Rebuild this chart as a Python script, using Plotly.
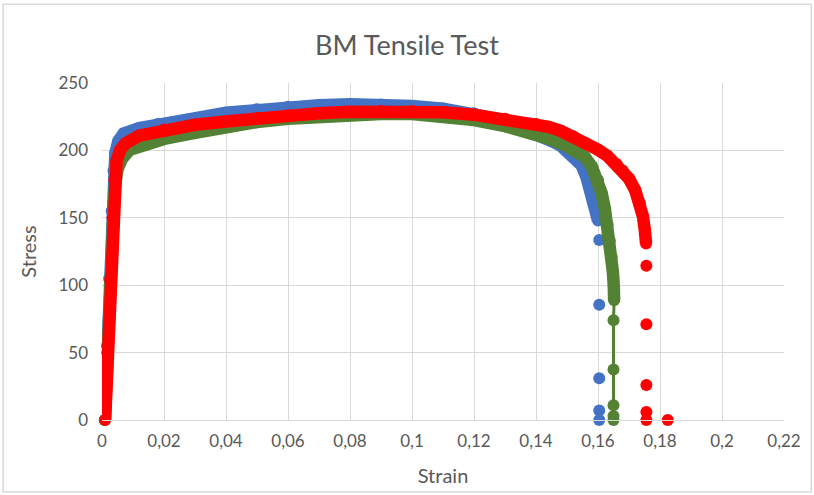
import plotly.graph_objects as go

# values (band centre lines + loose end points)
blue_strain = [0.0009, 0.0016, 0.0023, 0.0031, 0.0037, 0.0043, 0.0053, 0.007, 0.012, 0.018,
               0.028, 0.04, 0.05, 0.06, 0.07, 0.08, 0.09, 0.1, 0.11, 0.12, 0.125, 0.13,
               0.135, 0.14, 0.145, 0.148, 0.1506, 0.1528, 0.1547, 0.1563, 0.1577, 0.1588,
               0.1595, 0.16]
blue_stress = [0, 55, 105, 155, 185, 198, 207, 212.5, 216.5, 219.5,
               223, 228, 230.5, 232.4, 233.5, 234.2, 234, 233, 231, 227.5, 224.5, 221,
               217, 212, 207, 203.5, 199, 195, 189, 180, 170, 162,
               155, 148]
blue_tail_strain = [0.1604, 0.1604, 0.1604, 0.1604, 0.1604]
blue_tail_stress = [133.5, 85.5, 31, 7, 0]

green_strain = [0.0009, 0.0017, 0.0025, 0.0033, 0.0041, 0.005, 0.0065, 0.009, 0.015, 0.02,
                0.03, 0.04, 0.05, 0.06, 0.07, 0.08, 0.09, 0.1, 0.11, 0.12, 0.13, 0.14,
                0.145, 0.15, 0.153, 0.1558, 0.158, 0.16, 0.1612, 0.1622, 0.1631, 0.1638,
                0.1644, 0.1648, 0.1651, 0.1652]
green_stress = [0, 50, 100, 145, 172, 186, 194, 200.5, 205.5, 208.5,
                213, 217.5, 221, 223.5, 225.3, 226.5, 227, 227, 225.5, 222.5, 218, 212,
                208, 203, 199.5, 195, 188, 178, 168, 157, 145, 133,
                121, 110, 99, 89]
green_tail_strain = [0.1652, 0.165, 0.165, 0.165, 0.165, 0.165]
green_tail_stress = [89, 74, 37.5, 11, 3, 0]

red_strain = [0.001, 0.0018, 0.0026, 0.0034, 0.004, 0.0047, 0.0058, 0.0075, 0.012, 0.02,
              0.03, 0.04, 0.05, 0.06, 0.07, 0.08, 0.09, 0.1, 0.11, 0.12, 0.13, 0.14,
              0.144, 0.148, 0.152, 0.156, 0.16, 0.163, 0.166, 0.168, 0.17, 0.172,
              0.1735, 0.1745, 0.1751, 0.1755]
red_stress = [0, 50, 104, 150, 178, 192, 200, 205, 211, 215.5,
              219, 221.5, 224, 226, 227.5, 228.7, 229.3, 229.3, 228.3, 226.5, 223.5, 219.5,
              217.5, 214.5, 210.5, 205.5, 200.5, 196, 190, 185, 179, 170.5,
              161, 151, 141, 131]
red_tail_strain = [0.1756, 0.1756, 0.1756, 0.1756, 0.1756, 0.1825]
red_tail_stress = [114.5, 71, 26, 6, 0, 0]

x_ticks = [0, 0.02, 0.04, 0.06, 0.08, 0.1, 0.12, 0.14, 0.16, 0.18, 0.2, 0.22]
x_tick_labels = ['0', '0,02', '0,04', '0,06', '0,08', '0,1', '0,12', '0,14', '0,16', '0,18', '0,2', '0,22']
y_ticks = [0, 50, 100, 150, 200, 250]

BLUE = '#4472C4'
GREEN = '#548235'
RED = '#FF0000'
GREY = '#595959'
MS = 12

fig = go.Figure()

def band(x, y, color, width):
    fig.add_trace(go.Scatter(x=x, y=y, mode='lines+markers',
                             line=dict(color=color, width=width),
                             marker=dict(color=color, size=MS),
                             cliponaxis=False, showlegend=False, hoverinfo='x+y'))

def dots(x, y, color):
    fig.add_trace(go.Scatter(x=x, y=y, mode='markers',
                             marker=dict(color=color, size=MS),
                             cliponaxis=False, showlegend=False, hoverinfo='x+y'))

band(blue_strain, blue_stress, BLUE, 12.5)
dots(blue_tail_strain, blue_tail_stress, BLUE)
band(green_strain, green_stress, GREEN, 12.5)
band(green_tail_strain, green_tail_stress, GREEN, 3)
band(red_strain, red_stress, RED, 12.5)
dots(red_tail_strain, red_tail_stress, RED)

fig.update_layout(
    width=814, height=495,
    margin=dict(l=102, r=30, t=83, b=75),
    paper_bgcolor='white', plot_bgcolor='white',
    font=dict(family='Lato, Open Sans, sans-serif', color=GREY),
    title=dict(text='BM Tensile Test', x=0.5, xanchor='center', y=0.908, yanchor='middle',
               font=dict(size=27, color=GREY)),
    showlegend=False,
)
fig.update_xaxes(range=[0, 0.22], tickvals=x_ticks, ticktext=x_tick_labels,
                 showgrid=True, gridcolor='#D9D9D9', gridwidth=1,
                 showline=True, linecolor='#D9D9D9', linewidth=1,
                 zeroline=False, ticks='', tickfont=dict(size=17, color=GREY),
                 ticklabelstandoff=6,
                 title=dict(text='Strain', font=dict(size=20, color=GREY), standoff=18))
fig.update_yaxes(range=[0, 250], tickvals=y_ticks,
                 showgrid=True, gridcolor='#D9D9D9', gridwidth=1,
                 zeroline=False, ticks='', tickfont=dict(size=17, color=GREY),
                 ticklabelstandoff=13,
                 title=dict(text='Stress', font=dict(size=20, color=GREY), standoff=16))

# light chart-area border
fig.add_shape(type='rect', xref='paper', yref='paper',
              x0=-0.145, x1=1.04, y0=-0.214, y1=1.234,
              line=dict(color='#D9D9D9', width=1.5), fillcolor='rgba(0,0,0,0)', layer='below')

fig.write_html('out.html', config={'displayModeBar': False},
               post_script="document.body.style.margin='0';")
